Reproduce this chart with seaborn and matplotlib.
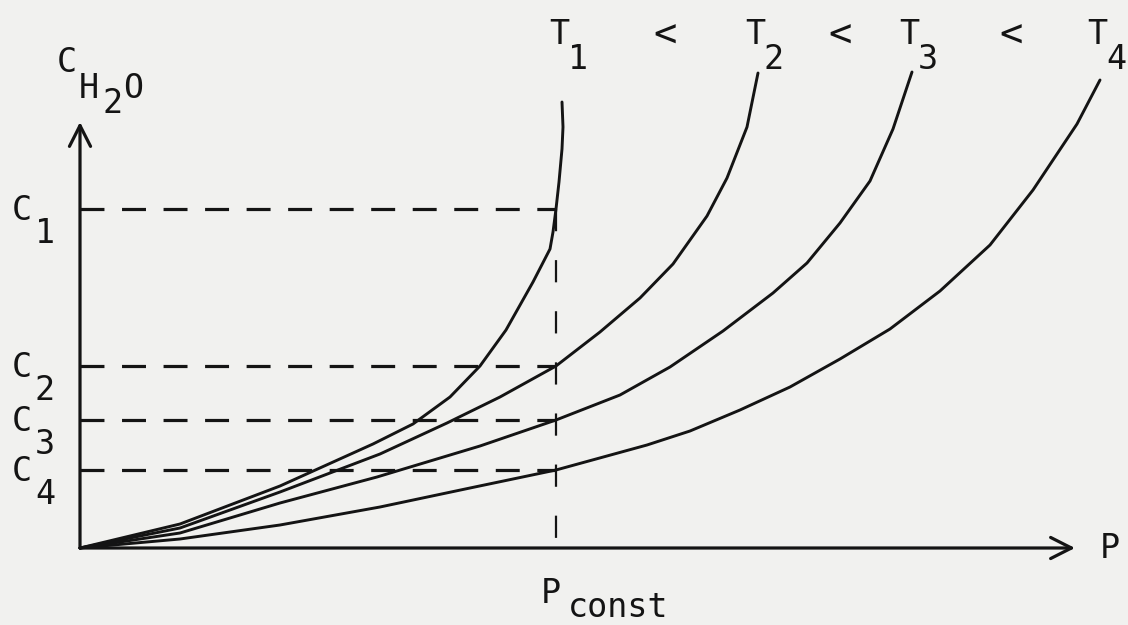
import numpy as np
import pandas as pd
import seaborn as sns
import matplotlib
matplotlib.use("Agg")
import matplotlib.pyplot as plt

# ---------------- data (diagram units) ----------------
T1_P = [0, 1.00, 2.00, 2.93, 3.33, 3.70, 4.00, 4.26, 4.53, 4.70, 4.73, 4.76, 4.79, 4.82, 4.83, 4.82]
T1_C = [0, 0.24, 0.62, 1.04, 1.24, 1.51, 1.82, 2.18, 2.66, 2.99, 3.16, 3.39, 3.66, 3.99, 4.21, 4.46]

T2_P = [0, 1.00, 2.00, 3.00, 3.67, 4.20, 4.76, 5.20, 5.60, 5.93, 6.27, 6.47, 6.67, 6.78]
T2_C = [0, 0.20, 0.56, 0.94, 1.25, 1.51, 1.82, 2.16, 2.50, 2.84, 3.32, 3.70, 4.21, 4.75]

T3_P = [0, 1.00, 2.00, 2.97, 4.00, 4.76, 5.40, 5.90, 6.43, 6.93, 7.27, 7.60, 7.90, 8.13, 8.32]
T3_C = [0, 0.15, 0.45, 0.71, 1.02, 1.28, 1.53, 1.81, 2.17, 2.55, 2.85, 3.25, 3.67, 4.19, 4.76]

T4_P = [0, 1.00, 2.00, 3.00, 3.90, 4.76, 5.67, 6.10, 6.60, 7.10, 7.60, 8.10, 8.60, 9.10, 9.53, 9.97, 10.20]
T4_C = [0, 0.09, 0.23, 0.41, 0.60, 0.78, 1.03, 1.17, 1.38, 1.61, 1.89, 2.19, 2.57, 3.03, 3.58, 4.24, 4.68]

CURVES = ["T1", "T2", "T3", "T4"]
CURVE_SUBS = ["1", "2", "3", "4"]
P_CONST = 4.76
C_LEVELS = [3.39, 1.82, 1.28, 0.78]
LEVEL_SUBS = ["1", "2", "3", "4"]
Y_AXIS_TOP = 4.26
X_AXIS_END = 9.95

# ---------------- build long table ----------------
frames = []
for name, ps, cs in zip(CURVES, [T1_P, T2_P, T3_P, T4_P], [T1_C, T2_C, T3_C, T4_C]):
    frames.append(pd.DataFrame({"P": ps, "C": cs, "curve": name}))
df = pd.concat(frames, ignore_index=True)

# ---------------- style ----------------
sns.set_theme(style="white")
plt.rcParams["font.family"] = ["DejaVu Sans Mono", "DejaVu Sans"]
BG = "#f1f1ef"
INK = "#141414"
FS = 24

fig = plt.figure(figsize=(11.28, 6.25), dpi=100, facecolor=BG)
ax = fig.add_axes([0, 0, 1, 1])
ax.set_facecolor(BG)

sns.lineplot(data=df, x="P", y="C", hue="curve", units="curve", estimator=None,
             sort=False, palette=[INK] * 4, linewidth=2.1, legend=False, ax=ax)
for ln in ax.get_lines():
    ln.set_solid_joinstyle("round")
    ln.set_solid_capstyle("round")

ax.set_xlim(-0.80, 10.48)
ax.set_ylim(-0.77, 5.48)
ax.set_axis_off()

# axes with open arrowheads
arrow = dict(arrowstyle="->,head_length=0.75,head_width=0.38", lw=2.3, color=INK,
             mutation_scale=20, shrinkA=0, shrinkB=0)
ax.annotate("", xy=(0, Y_AXIS_TOP), xytext=(0, 0), arrowprops=arrow)
ax.annotate("", xy=(X_AXIS_END, 0), xytext=(0, 0), arrowprops=arrow)

# dashed guide lines
for c in C_LEVELS:
    ax.plot([0, P_CONST], [c, c], color=INK, lw=2.3, ls=(0, (7.5, 5.5)), solid_capstyle="butt")
ax.plot([P_CONST, P_CONST], [C_LEVELS[0], -0.10], color=INK, lw=1.6, ls=(0, (10, 13)))

# labels
tk = dict(fontsize=FS, color=INK, ha="left", va="baseline")
ax.text(-0.23, 4.76, "C", **tk)
ax.text(-0.01, 4.50, "H", **tk)
ax.text(0.23, 4.35, "2", **tk)
ax.text(0.43, 4.50, "O", **tk)
ax.text(10.20, -0.10, "P", **tk)
ax.text(4.61, -0.55, "P", **tk)
ax.text(4.88, -0.69, "const", **tk)

# concentration level labels
for c, s in zip(C_LEVELS, LEVEL_SUBS):
    ax.text(-0.68, c - 0.11, "C", **tk)
    ax.text(-0.45, c - 0.34, s, **tk)

# temperature labels at curve ends
tops = [ps[-1] for ps in [T1_P, T2_P, T3_P, T4_P]]
spans = []
for top, s in zip(tops, CURVE_SUBS):
    x0 = top - 0.13
    ax.text(x0, 5.04, "T", **tk)
    ax.text(x0 + 0.19, 4.79, s, **tk)
    spans.append((x0, x0 + 0.19 + 0.17))
for i in range(3):
    mid = (spans[i][1] + spans[i + 1][0]) / 2
    ax.text(mid, 5.01, "<", fontsize=FS + 4, color=INK, ha="center", va="baseline")

fig.savefig("out.png", dpi=100, facecolor=BG)
